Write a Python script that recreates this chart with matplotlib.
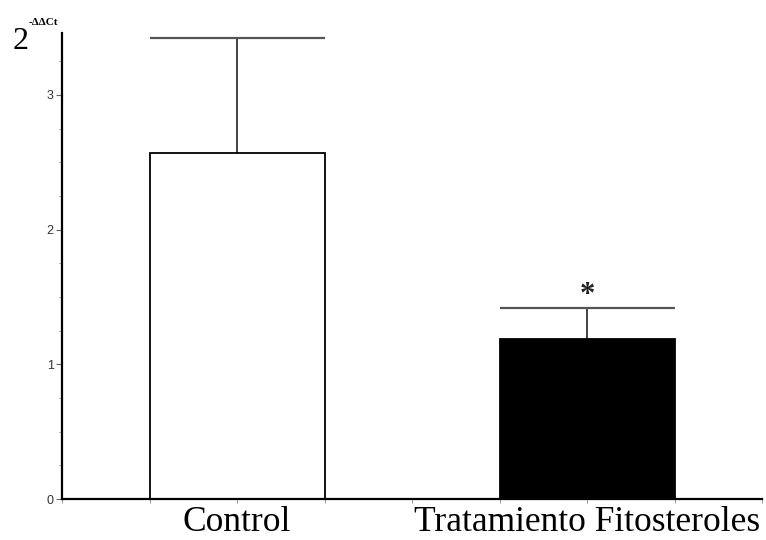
import numpy as np
import matplotlib
matplotlib.use("Agg")
import matplotlib.pyplot as plt
from matplotlib.ticker import MultipleLocator

categories = ["Control", "Tratamiento Fitosteroles"]
means = [2.57, 1.19]
sem = [0.85, 0.23]
colors = ["white", "black"]
positions = [2, 6]
bar_width = 2

fig = plt.figure(figsize=(7.66, 5.40), dpi=100)
ax = fig.add_axes([62 / 766, 1 - 499 / 540, 700 / 766, 466 / 540])

ax.bar(positions, means, width=bar_width, color=colors, edgecolor="black",
       linewidth=1.3, zorder=2)

# upper error bars only, cap as wide as the bar
tops = [m + s for m, s in zip(means, sem)]
ax.vlines(positions, means, tops, color="#111111", linewidth=1.1, zorder=1)
ax.hlines(tops, [p - bar_width / 2 for p in positions],
          [p + bar_width / 2 for p in positions], color="#555555", linewidth=1.6, zorder=1)

ax.text(positions[1], tops[1] - 0.02, "*", ha="center", va="bottom",
        fontsize=22, family="Liberation Serif", fontweight="bold", color="#222222")

ax.set_xlim(0, 8)
ax.set_ylim(0, 3.46)

ax.spines["top"].set_visible(False)
ax.spines["right"].set_visible(False)
ax.spines["left"].set_linewidth(1.6)
ax.spines["bottom"].set_linewidth(1.6)

ax.set_yticks([0, 1, 2, 3])
ax.set_yticklabels(["0", "1", "2", "3"])
ax.yaxis.set_minor_locator(MultipleLocator(0.25))
ax.tick_params(axis="y", which="major", length=4, width=0.8, color="#666666",
               labelsize=9, labelcolor="#333333", pad=2)
ax.tick_params(axis="y", which="minor", length=2, width=0.6, color="#888888")
for lab in ax.get_yticklabels():
    lab.set_family("Liberation Sans")

ax.set_xticks(positions)
ax.set_xticklabels(categories, family="Liberation Serif", fontsize=25.5)
ax.xaxis.set_minor_locator(MultipleLocator(1))
ax.tick_params(axis="x", which="both", length=3, width=0.6, color="#888888", pad=2)

fig.text(13 / 766, 1 - 49 / 540, "2", family="Liberation Serif", fontsize=23,
         ha="left", va="baseline")
fig.text(29 / 766, 1 - 25 / 540, "-ΔΔCt", family="Liberation Serif", fontsize=8,
         fontweight="bold", ha="left", va="baseline")

fig.savefig("out.png", dpi=100)
